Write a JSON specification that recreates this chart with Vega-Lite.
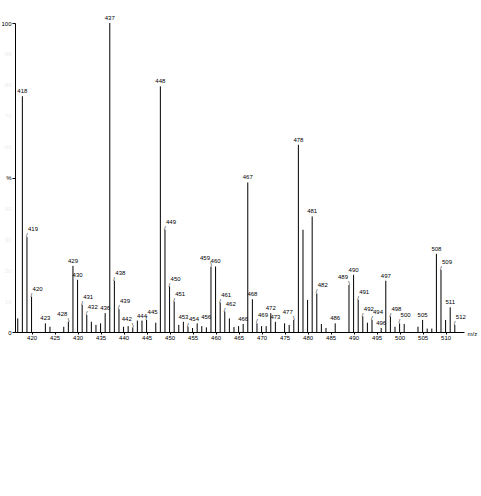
{
  "$schema": "https://vega.github.io/schema/vega-lite/v6.json",
  "autosize": "none",
  "width": 449,
  "height": 309,
  "padding": {"left": 15, "top": 23, "right": 17, "bottom": 164},
  "background": "white",
  "config": {"view": {"stroke": null}, "font": "Liberation Sans"},
  "data": {"values": [
    {"mz": 417, "pct": 4.4}, {"mz": 418, "pct": 76.3}, {"mz": 419, "pct": 30.7}, {"mz": 420, "pct": 11.4},
    {"mz": 423, "pct": 2.8}, {"mz": 424, "pct": 1.7}, {"mz": 427, "pct": 1.7}, {"mz": 428, "pct": 3.3},
    {"mz": 429, "pct": 21.4}, {"mz": 430, "pct": 16.9}, {"mz": 431, "pct": 8.8}, {"mz": 432, "pct": 5.5},
    {"mz": 433, "pct": 3.3}, {"mz": 434, "pct": 2.3}, {"mz": 435, "pct": 2.8}, {"mz": 436, "pct": 6.1},
    {"mz": 437, "pct": 100}, {"mz": 438, "pct": 16.6}, {"mz": 439, "pct": 7.4}, {"mz": 440, "pct": 1.7},
    {"mz": 441, "pct": 1.9}, {"mz": 442, "pct": 1.5}, {"mz": 443, "pct": 3.7}, {"mz": 444, "pct": 3.7},
    {"mz": 445, "pct": 3.9}, {"mz": 447, "pct": 3.0}, {"mz": 448, "pct": 79.5}, {"mz": 449, "pct": 33.1},
    {"mz": 450, "pct": 14.7}, {"mz": 451, "pct": 9.8}, {"mz": 452, "pct": 2.3}, {"mz": 453, "pct": 3.3},
    {"mz": 454, "pct": 1.7}, {"mz": 455, "pct": 1.3}, {"mz": 456, "pct": 2.8}, {"mz": 457, "pct": 1.9},
    {"mz": 458, "pct": 1.5}, {"mz": 459, "pct": 21.2}, {"mz": 460, "pct": 21.2}, {"mz": 461, "pct": 9.5},
    {"mz": 462, "pct": 6.6}, {"mz": 463, "pct": 4.4}, {"mz": 464, "pct": 1.6}, {"mz": 465, "pct": 1.9},
    {"mz": 466, "pct": 2.6}, {"mz": 467, "pct": 48.4}, {"mz": 468, "pct": 10.6}, {"mz": 469, "pct": 2.8},
    {"mz": 470, "pct": 1.9}, {"mz": 471, "pct": 1.9}, {"mz": 472, "pct": 6.1}, {"mz": 473, "pct": 3.3},
    {"mz": 475, "pct": 2.8}, {"mz": 476, "pct": 2.3}, {"mz": 477, "pct": 3.9}, {"mz": 478, "pct": 60.6},
    {"mz": 479, "pct": 33.1}, {"mz": 480, "pct": 10.4}, {"mz": 481, "pct": 37.4}, {"mz": 482, "pct": 12.5},
    {"mz": 483, "pct": 2.6}, {"mz": 484, "pct": 1.3}, {"mz": 486, "pct": 2.8}, {"mz": 489, "pct": 15.2},
    {"mz": 490, "pct": 18.5}, {"mz": 491, "pct": 10.4}, {"mz": 492, "pct": 5.0}, {"mz": 493, "pct": 3.0},
    {"mz": 494, "pct": 3.9}, {"mz": 496, "pct": 1.3}, {"mz": 497, "pct": 16.6}, {"mz": 498, "pct": 5.0},
    {"mz": 499, "pct": 1.7}, {"mz": 500, "pct": 2.8}, {"mz": 501, "pct": 2.6}, {"mz": 504, "pct": 1.7},
    {"mz": 505, "pct": 3.9}, {"mz": 506, "pct": 1.1}, {"mz": 507, "pct": 1.1}, {"mz": 508, "pct": 25.3},
    {"mz": 509, "pct": 20.1}, {"mz": 510, "pct": 3.9}, {"mz": 511, "pct": 8.0}, {"mz": 512, "pct": 2.3}
  ]},
  "encoding": {
    "x": {"field": "mz", "type": "quantitative",
      "scale": {"domain": [416.4, 514], "nice": false, "zero": false},
      "axis": {"values": [420,425,430,435,440,445,450,455,460,465,470,475,480,485,490,495,500,505,510],
        "format": "d", "grid": false, "domainColor": "black", "domainWidth": 1,
        "tickColor": "black", "tickSize": 2, "labelPadding": 0, "labelFontSize": 6, "labelColor": "black",
        "labelFont": "Liberation Sans",
        "title": "m/z", "titleFontSize": 6, "titleFontWeight": "normal", "titleColor": "black",
        "titleX": 452, "titleY": 1, "titleAlign": "left", "titleBaseline": "middle", "titleAnchor": null}},
    "y": {"field": "pct", "type": "quantitative",
      "scale": {"domain": [0, 100], "nice": false},
      "axis": {"values": [0,10,20,30,40,50,60,70,80,90,100], "grid": false,
        "domainColor": "black", "domainWidth": 1, "tickSize": 3, "labelPadding": 1,
        "labelFontSize": 6, "labelFont": "Liberation Sans",
        "labelExpr": "datum.value == 50 ? '%' : datum.label",
        "labelColor": {"condition": {"test": "datum.value == 0 || datum.value == 50 || datum.value == 100", "value": "black"}, "value": "#ececec"},
        "tickColor": {"condition": {"test": "datum.value == 0 || datum.value == 50 || datum.value == 100", "value": "black"}, "value": "transparent"},
        "title": null}}
  },
  "layer": [
    {"mark": {"type": "rule", "color": "black", "strokeWidth": 1},
     "encoding": {"y2": {"datum": 0}}},
    {"transform": [{"filter": {"field": "mz", "oneOf": [418,423,429,430,436,437,444,448,453,460,466,467,468,472,473,478,481,486,490,496,497,505,508,511]}}],
     "mark": {"type": "text", "fontSize": 6, "align": "center", "baseline": "bottom", "dy": -2, "color": "black"},
     "encoding": {"text": {"field": "mz", "type": "quantitative", "format": "d"}}},
    {"transform": [{"filter": {"field": "mz", "oneOf": [419,420,431,432,438,439,445,449,450,451,454,461,462,469,482,491,492,494,498,500,509,512]}}],
     "mark": {"type": "text", "fontSize": 6, "align": "left", "baseline": "bottom", "dx": 1, "dy": -5, "color": "black"},
     "encoding": {"text": {"field": "mz", "type": "quantitative", "format": "d"}}},
    {"transform": [{"filter": {"field": "mz", "oneOf": [456]}}],
     "mark": {"type": "text", "fontSize": 6, "align": "left", "baseline": "bottom", "dx": 4, "dy": -3, "color": "black"},
     "encoding": {"text": {"field": "mz", "type": "quantitative", "format": "d"}}},
    {"transform": [{"filter": {"field": "mz", "oneOf": [419,420,431,432,438,439,445,449,450,451,454,461,462,469,482,491,492,494,498,500,509,512]}}],
     "mark": {"type": "text", "fontSize": 6, "align": "left", "baseline": "bottom", "dx": -1, "dy": 1, "color": "black", "text": "/"},
     "encoding": {}},
    {"transform": [{"filter": {"field": "mz", "oneOf": [428,442,459,477,489]}}],
     "mark": {"type": "text", "fontSize": 6, "align": "right", "baseline": "bottom", "dx": -1, "dy": -5, "color": "black"},
     "encoding": {"text": {"field": "mz", "type": "quantitative", "format": "d"}}},
    {"transform": [{"filter": {"field": "mz", "oneOf": [428,442,459,477,489]}}],
     "mark": {"type": "text", "fontSize": 6, "align": "right", "baseline": "bottom", "dx": 1, "dy": 1, "color": "black", "text": "\\"},
     "encoding": {}}
  ]
}
